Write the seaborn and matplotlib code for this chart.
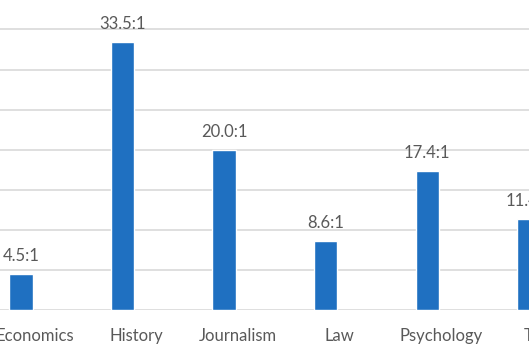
import matplotlib
matplotlib.use("Agg")
import matplotlib.pyplot as plt
import seaborn as sns
import pandas as pd
import numpy as np

categories = ["Economics", "History", "Journalism", "Law", "Psychology", "Total"]
ratios = [4.5, 33.5, 20.0, 8.6, 17.4, 11.4]
ratio_labels = ["4.5:1", "33.5:1", "20.0:1", "8.6:1", "17.4:1", "11.4:1"]

sns.set_style("white")
plt.rcParams["font.family"] = ["Lato", "DejaVu Sans"]

df = pd.DataFrame({"category": categories, "ratio": ratios})

fig = plt.figure(figsize=(5.29, 3.53), dpi=100)
ax = fig.add_axes([-0.0564, 0.1218, 1.152, 0.8287])
sns.barplot(data=df, x="category", y="ratio", color="#1F70C1", saturation=1,
            width=0.23, ax=ax)
ax.set_xlim(-0.5, 5.5)
ax.set_ylim(0, 36.5)
ax.set_yticks([0, 5, 10, 15, 20, 25, 30, 35])
ax.set_xticks(np.arange(len(categories)) + 0.138, categories)
ax.yaxis.grid(True, color="#D9D9D9", linewidth=1.2)
ax.set_axisbelow(True)
for s in ax.spines.values():
    s.set_visible(False)
ax.tick_params(axis="x", length=0, pad=13, labelsize=12, labelcolor="#595959")
ax.tick_params(axis="y", length=0, labelleft=False)
ax.set_xlabel("")
ax.set_ylabel("")
ax.bar_label(ax.containers[0], labels=ratio_labels, padding=7, fontsize=12, color="#595959")
fig.savefig("out.png", dpi=100)
